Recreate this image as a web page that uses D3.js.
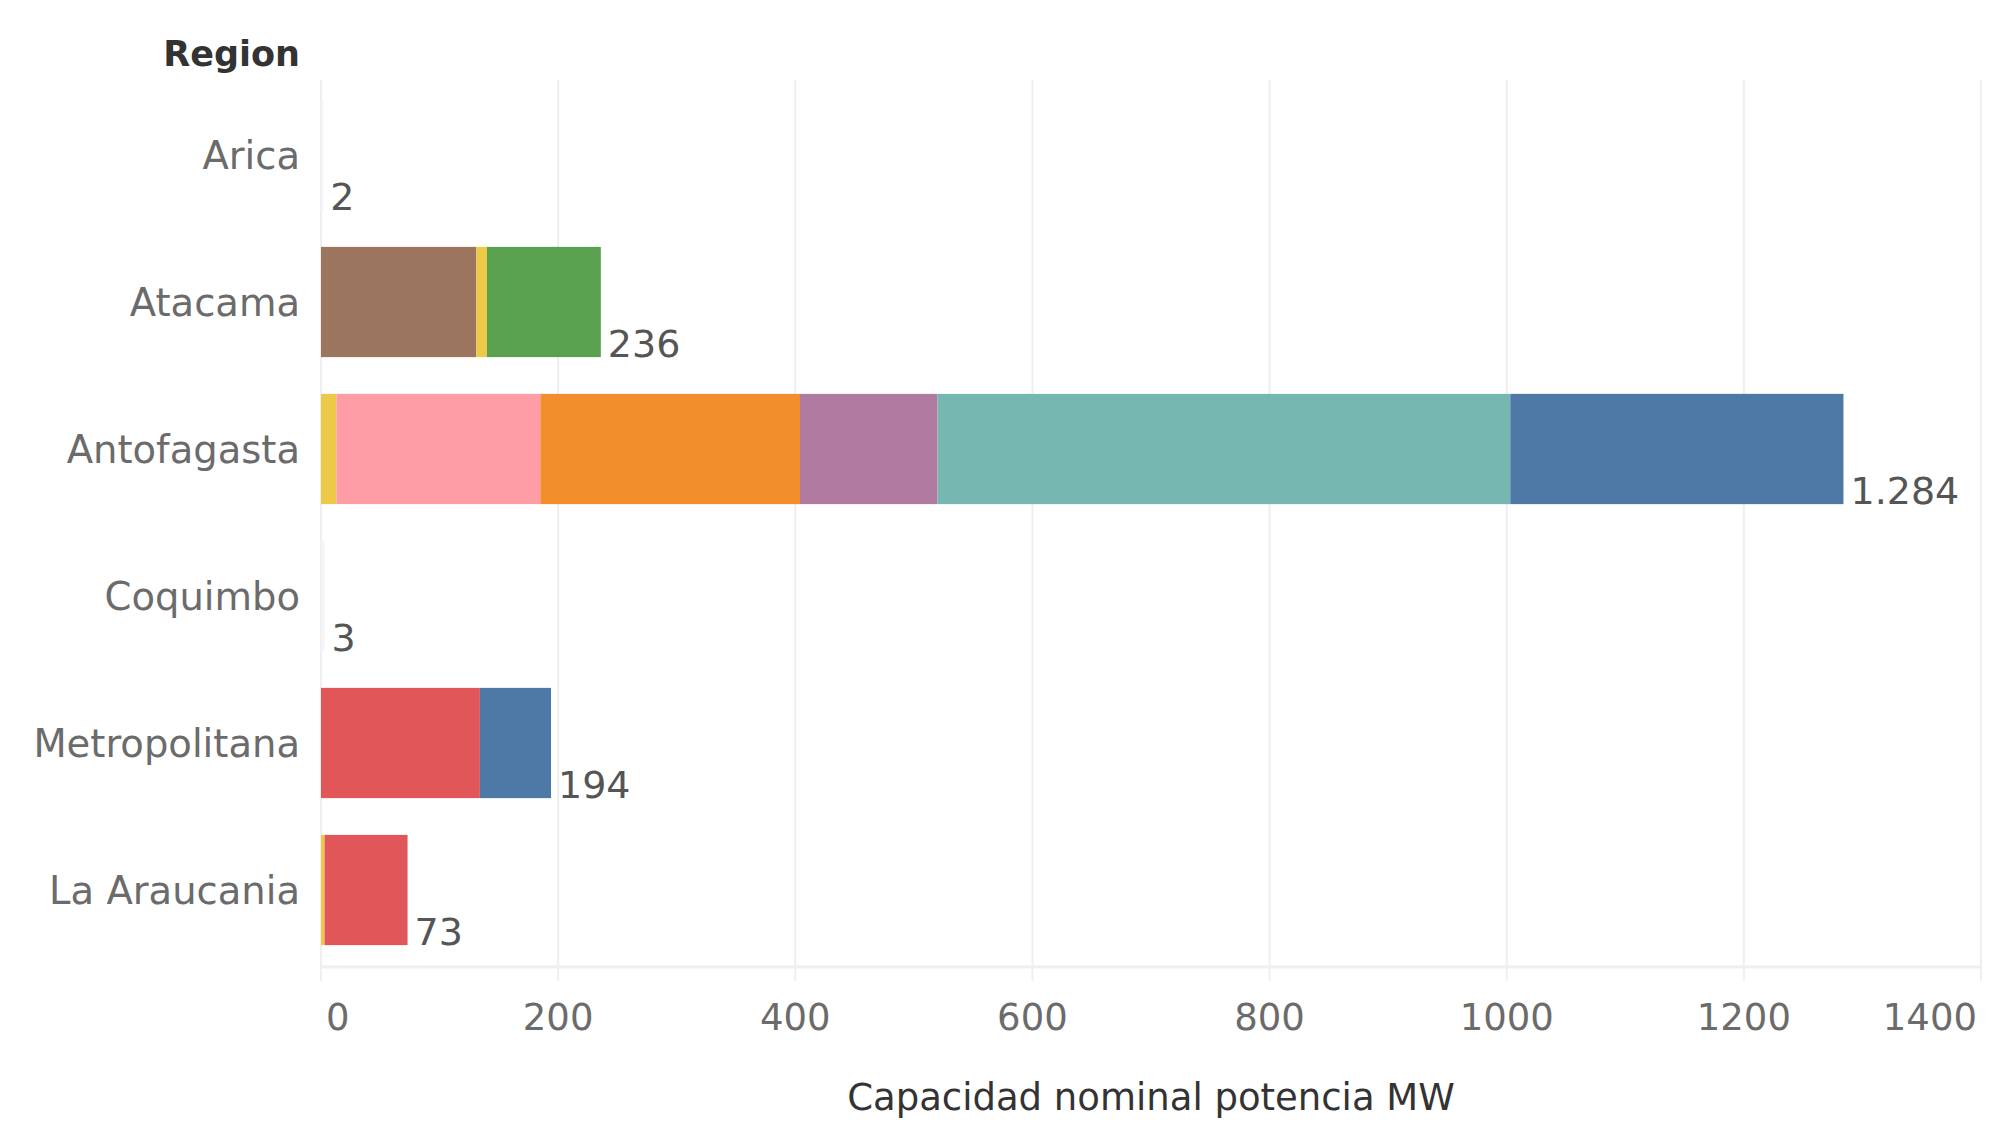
<!DOCTYPE html>
<html>
<head>
<meta charset="utf-8">
<script src="https://cdn.jsdelivr.net/npm/d3@7"></script>
<style>
  html, body { margin: 0; padding: 0; background: #fff; }
  svg text { font-family: "DejaVu Sans", sans-serif; }
</style>
</head>
<body>
<svg id="chart" width="2013" height="1121"></svg>
<script>
// ---- data ----
const regions = ["Arica", "Atacama", "Antofagasta", "Coquimbo", "Metropolitana", "La Araucania"];
const segSeries = [
  ["Otro"],
  ["Café", "Amarillo", "Verde"],
  ["Amarillo", "Rosa", "Naranjo", "Morado", "Turquesa", "Azul"],
  ["Otro"],
  ["Rojo", "Azul"],
  ["Amarillo", "Rojo"]
];
const segValues = [
  [2],
  [131, 9, 96],
  [13, 172, 219, 116, 483, 281],
  [3],
  [134, 60],
  [3, 70]
];
const seriesKeys = ["Amarillo", "Café", "Verde", "Rosa", "Naranjo", "Morado", "Turquesa", "Azul", "Rojo", "Otro"];
const seriesColors = ["#edc948", "#9c755f", "#59a14f", "#ff9da7", "#f28e2b", "#b07aa1", "#76b7b2", "#4e79a7", "#e15759", "#f4f4f4"];
const xTicks = [0, 200, 400, 600, 800, 1000, 1200, 1400];
const xTitle = "Capacidad nominal potencia MW";
const yTitle = "Region";

// ---- layout ----
const svg = d3.select("#chart");
const x = d3.scaleLinear().domain([0, 1400]).range([321, 1981]);
const y = d3.scaleBand().domain(regions).range([81.5, 963.5]).paddingInner(0.25).paddingOuter(0.125);
const color = d3.scaleOrdinal().domain(seriesKeys).range(seriesColors);
const fmt = d3.formatLocale({decimal: ",", thousands: ".", grouping: [3], currency: ["$", ""]}).format(",d");

// gridlines
svg.append("g").selectAll("line").data(xTicks).join("line")
  .attr("x1", d => x(d)).attr("x2", d => x(d))
  .attr("y1", 80).attr("y2", 981)
  .attr("stroke", "#efefef").attr("stroke-width", 2);

// bars
const rows = regions.map((r, i) => {
  let acc = 0;
  const segs = segValues[i].map((v, j) => {
    const s = {region: r, key: segSeries[i][j], x0: acc, x1: acc + v};
    acc += v;
    return s;
  });
  return {region: r, segs, total: acc};
});

const gRows = svg.append("g").selectAll("g").data(rows).join("g");
gRows.selectAll("rect").data(d => d.segs).join("rect")
  .attr("x", d => x(d.x0))
  .attr("width", d => x(d.x1) - x(d.x0))
  .attr("y", d => y(d.region))
  .attr("height", y.bandwidth())
  .attr("fill", d => color(d.key));

// baseline of x axis
svg.append("line")
  .attr("x1", x(0)).attr("x2", x(1400))
  .attr("y1", 967).attr("y2", 967)
  .attr("stroke", "#efefef").attr("stroke-width", 3);

// value labels
gRows.append("text")
  .attr("x", d => x(d.total) + 7)
  .attr("y", d => y(d.region) + y.bandwidth())
  .attr("font-size", 38)
  .attr("fill", "#555")
  .text(d => fmt(d.total));

// region labels
svg.append("g").selectAll("text").data(regions).join("text")
  .attr("x", 300)
  .attr("y", d => y(d) + y.bandwidth() / 2 + 14)
  .attr("text-anchor", "end")
  .attr("font-size", 38.5)
  .attr("fill", "#6b6b6b")
  .text(d => d);

// y title
svg.append("text")
  .attr("x", 300).attr("y", 66)
  .attr("text-anchor", "end")
  .attr("font-size", 35)
  .attr("font-weight", "bold")
  .attr("fill", "#333")
  .text(yTitle);

// x tick labels
svg.append("g").selectAll("text").data(xTicks).join("text")
  .attr("x", (d, i) => i === 0 ? x(d) + 5 : (i === xTicks.length - 1 ? x(d) - 4 : x(d)))
  .attr("y", 1030)
  .attr("text-anchor", (d, i) => i === 0 ? "start" : (i === xTicks.length - 1 ? "end" : "middle"))
  .attr("font-size", 37)
  .attr("fill", "#6b6b6b")
  .text(d => d);

// x title
svg.append("text")
  .attr("x", (x(0) + x(1400)) / 2).attr("y", 1110)
  .attr("text-anchor", "middle")
  .attr("font-size", 37)
  .attr("fill", "#333")
  .text(xTitle);
</script>
</body>
</html>
